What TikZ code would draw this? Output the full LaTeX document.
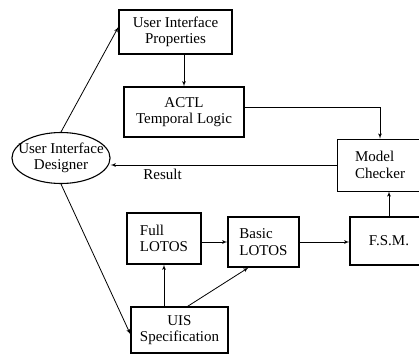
\documentclass[tikz,border=0pt]{standalone}
\usepackage{fontspec}
\setmainfont{Liberation Serif}
\usetikzlibrary{shapes, arrows}
\tikzstyle{block} = [draw, rectangle, line width=1.2pt, align=center, inner sep=2pt, font=\fontsize{15}{16.5}\selectfont]
\tikzstyle{thinblock} = [block, line width=0.6pt]
\tikzstyle{actor} = [draw, ellipse, line width=1.1pt, align=center, inner xsep=-8pt, inner ysep=1pt, minimum width=98pt, minimum height=51pt, font=\fontsize{15}{16.5}\selectfont]
\tikzstyle{flow} = [->, >=latex', line width=0.8pt]

\begin{document}
\begin{tikzpicture}[x=1pt, y=-1pt]
\useasboundingbox (0,0) rectangle (419,354);
\clip (0,0) rectangle (419,354);
\node [block, minimum width=113pt, minimum height=44pt] (uip) at (175.5,32) {User Interface\\Properties};
\node [block, minimum width=120pt, minimum height=50pt] (actl) at (184,112) {ACTL\\Temporal Logic};
\node [actor] (des) at (61,158) {User Interface\\Designer};
\node [thinblock, align=left, minimum width=86pt, minimum height=52pt] (mc) at (380,165) {Model\\Checker};
\node [block, minimum width=78pt, minimum height=48pt] (fsm) at (389,241) {F.S.M.};
\node [block, align=left, minimum width=74pt, minimum height=51pt] (full) at (164,238.5) {Full\\LOTOS};
\node [block, align=left, minimum width=71pt, minimum height=50pt] (basic) at (263.5,242) {Basic\\LOTOS};
\node [block, minimum width=97pt, minimum height=46pt] (uis) at (179.5,330) {UIS\\Specification};

\draw [flow] (des.north) -- (uip.175);
\draw [flow] (des.south) -- (uis.185);
\draw [flow] (actl.north |- uip.south) -- (actl.north);
\draw [flow] (actl.4) -| (mc.north);
\draw [flow] (mc.west) -- node[below, pos=0.77, font=\fontsize{15}{16.5}\selectfont] {Result} (mc.west -| des.east);
\draw [flow] (full.south |- uis.north) -- (full.south);
\draw [flow] ([xshift=8pt]uis.north) -- ([xshift=-15pt]basic.south);
\draw [flow] (full.east |- basic.west) -- (basic.west);
\draw [flow] (basic.east) -- (basic.east -| fsm.west);
\draw [flow] (fsm.north) -- (fsm.north |- mc.south);
\end{tikzpicture}
\end{document}
